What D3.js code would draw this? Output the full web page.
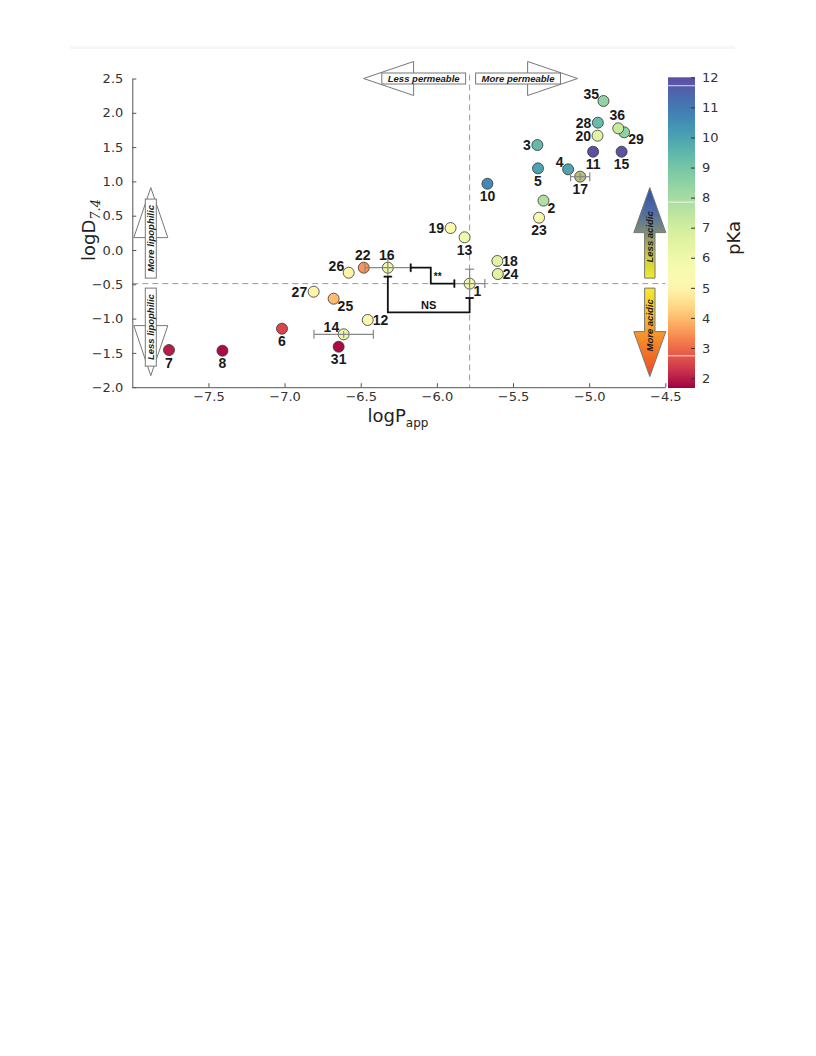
<!DOCTYPE html>
<html><head><meta charset="utf-8">
<script src="https://cdn.jsdelivr.net/npm/d3@7"></script>
<style>body{margin:0;background:#fff} svg{display:block}</style>
</head><body><svg id="c" width="816" height="1056"></svg>
<script>
// ---------- data ----------
const ids = ["1","2","3","4","5","6","7","8","10","11","12","13","14","15","16","17","18","19","20","22","23","24","25","26","27","28","29","31","35","36"];
const logPapp = [-5.785,-5.30,-5.34,-5.138,-5.336,-7.017,-7.759,-7.408,-5.668,-4.974,-6.454,-5.818,-6.612,-4.787,-6.322,-5.059,-5.603,-5.91,-4.945,-6.48,-5.329,-5.60,-6.678,-6.579,-6.809,-4.943,-4.77,-6.645,-4.906,-4.809];
const logD = [-0.49,0.72,1.53,1.176,1.19,-1.147,-1.458,-1.468,0.966,1.433,-1.02,0.185,-1.229,1.433,-0.258,1.069,-0.16,0.32,1.666,-0.258,0.471,-0.35,-0.71,-0.331,-0.608,1.856,1.716,-1.41,2.172,1.774];
const pKa = [6.0,7.8,9.4,10.0,10.0,2.5,2.0,1.8,10.6,12.0,5.2,5.8,6.0,11.9,6.0,6.3,6.5,5.3,6.5,3.5,5.4,6.5,4.0,5.0,5.0,9.3,8.5,1.8,8.4,7.2];
const labelPos = ["br","br","l","tl","b","b","b","b","b","b","r","b","tl","b","t","b","r","l","l","t","b","r","br","tl","l","l","br","b","tl","t"];

const errIds = ["16","14","1","17"];
const errX = [0.15,0.195,0.10,0.063];
const errY = [0.13,0.05,0.21,0.05];

const xTicks = [-7.5,-7.0,-6.5,-6.0,-5.5,-5.0,-4.5];
const yTicks = [-2.0,-1.5,-1.0,-0.5,0.0,0.5,1.0,1.5,2.0,2.5];
const cbTicks = [2,3,4,5,6,7,8,9,10,11,12];
const cbDomain = [1.67, 12];
const cbMid = 5.2;

// ---------- setup ----------
const svg = d3.select("#c");
const x = d3.scaleLinear().domain([-8.0,-4.5]).range([132.3,665.3]);
const y = d3.scaleLinear().domain([-2.0,2.5]).range([387.2,78.5]);
const tScale = d3.scaleLinear().domain([cbDomain[0], cbMid, cbDomain[1]]).range([0,0.5,1]).clamp(true);
const color = v => d3.interpolateSpectral(tScale(v));
const cbY = d3.scaleLinear().domain(cbDomain).range([388,77.3]);
const cbX0 = 668, cbX1 = 695;

const pts = ids.map((id,i)=>({id, px:logPapp[i], d:logD[i], k:pKa[i], pos:labelPos[i]}));
const byId = Object.fromEntries(pts.map(p=>[p.id,p]));
const errs = errIds.map((id,i)=>({p:byId[id], ex:errX[i], ey:errY[i]}));
const ref = byId["1"];

// faint top band
svg.append("rect").attr("x",70).attr("y",46).attr("width",665).attr("height",3).attr("fill","#f2f8f8");

const defs = svg.append("defs");

// ---------- reference dashed lines ----------
svg.append("line").attr("x1",x(ref.px)).attr("x2",x(ref.px)).attr("y1",y(2.5)-4).attr("y2",y(-2.0))
  .attr("stroke","#999").attr("stroke-width",1).attr("stroke-dasharray","6,4");
svg.append("line").attr("x1",x(-8)).attr("x2",x(-4.5)).attr("y1",y(ref.d)).attr("y2",y(ref.d))
  .attr("stroke","#999").attr("stroke-width",1).attr("stroke-dasharray","6,4");

// ---------- axes ----------
const fmt = d3.format(".1f");
const gx = svg.append("g").attr("transform",`translate(0,${y(-2.0)})`)
  .call(d3.axisBottom(x).tickValues(xTicks).tickFormat(fmt).tickSizeInner(-4).tickSizeOuter(0).tickPadding(4.5));
const gy = svg.append("g").attr("transform",`translate(${x(-8)},0)`)
  .call(d3.axisLeft(y).tickValues(yTicks).tickFormat(fmt).tickSizeInner(-4).tickSizeOuter(0).tickPadding(9));
[gx,gy].forEach(g=>{
  g.select(".domain").attr("stroke","#555");
  g.selectAll(".tick line").attr("stroke","#555");
  g.selectAll(".tick text").attr("fill","#333").style("font-family","DejaVu Sans").style("font-size","13px");
});

// axis labels
const xl = svg.append("text").attr("x",398).attr("y",422).attr("text-anchor","middle")
  .style("font-family","DejaVu Sans").style("font-size","18px").attr("fill","#222");
xl.append("tspan").text("logP");
xl.append("tspan").attr("dy",5).style("font-size","12px").text("app");

const yl = svg.append("text").attr("transform","translate(95,230) rotate(-90)").attr("text-anchor","middle")
  .style("font-family","DejaVu Sans").style("font-size","18px").attr("fill","#222");
yl.append("tspan").text("logD");
yl.append("tspan").attr("dy",5).style("font-family","DejaVu Serif").style("font-style","italic").style("font-size","13px").text("7.4");

// ---------- block arrows ----------
function arrowPts(x0,y0,x1,y1,sw,hw,hl){
  const dx=x1-x0, dy=y1-y0, L=Math.hypot(dx,dy), ux=dx/L, uy=dy/L, px=-uy, py=ux;
  const bx=x1-ux*hl, by=y1-uy*hl;
  return [[x0+px*sw,y0+py*sw],[bx+px*sw,by+py*sw],[bx+px*hw,by+py*hw],[x1,y1],[bx-px*hw,by-py*hw],[bx-px*sw,by-py*sw],[x0-px*sw,y0-py*sw]];
}
function headPts(x0,y0,x1,y1,hw,hl){
  const dx=x1-x0, dy=y1-y0, L=Math.hypot(dx,dy), ux=dx/L, uy=dy/L, px=-uy, py=ux;
  const bx=x1-ux*hl, by=y1-uy*hl;
  return [[bx+px*hw,by+py*hw],[x1,y1],[bx-px*hw,by-py*hw]];
}
const arrowFont = g => g.style("font-family","Liberation Sans").style("font-weight","bold").style("font-style","italic").style("font-size","9.5px").attr("fill","#1a1a1a");

// white boxed arrows
function boxArrow(x0,y0,x1,y1,label,vertical){
  const g = svg.append("g");
  g.append("polygon").attr("points",headPts(x0,y0,x1,y1,17,50).join(" "))
    .attr("fill","#fff").attr("stroke","#777").attr("stroke-width",1);
  const t = g.append("text").attr("text-anchor","middle").call(arrowFont).text(label);
  const tl = t.node().getComputedTextLength();
  const box = tl + 12;
  const L = Math.hypot(x1-x0,y1-y0), ux=(x1-x0)/L, uy=(y1-y0)/L;
  const cx = x0+ux*box/2, cy = y0+uy*box/2;
  if(vertical){
    g.insert("rect","text").attr("x",cx-5.5).attr("y",Math.min(y0,y0+uy*box)).attr("width",11).attr("height",box)
      .attr("fill","#fff").attr("stroke","#777").attr("stroke-width",1);
    t.attr("transform",`translate(${cx+3.3},${cy}) rotate(-90)`);
  } else {
    g.insert("rect","text").attr("x",Math.min(x0,x0+ux*box)).attr("y",cy-5.5).attr("width",box).attr("height",11)
      .attr("fill","#fff").attr("stroke","#777").attr("stroke-width",1);
    t.attr("x",cx).attr("y",cy+3.3);
  }
}
const rx = x(ref.px), ry = y(ref.d), topY = y(2.5), leftX = x(-8)+18.5;
boxArrow(rx-4, topY, rx-106, topY, "Less permeable", false);
boxArrow(rx+6, topY, rx+108, topY, "More permeable", false);
boxArrow(leftX, ry-5.5, leftX, ry-96, "More lipophilic", true);
boxArrow(leftX, ry+4.5, leftX, ry+92, "Less lipophilic", true);

// gradient arrows (acidity)
function gradArrow(idn,x0,y0,x1,y1,stops,label,textShift){
  const gr = defs.append("linearGradient").attr("id",idn).attr("gradientUnits","userSpaceOnUse")
    .attr("x1",x0).attr("y1",y0).attr("x2",x1).attr("y2",y1);
  stops.forEach(s=>gr.append("stop").attr("offset",s[0]).attr("stop-color",s[1]));
  svg.append("polygon").attr("points",arrowPts(x0,y0,x1,y1,5.2,16,45).join(" "))
    .attr("fill",`url(#${idn})`).attr("stroke","#777").attr("stroke-width",1);
  const cy = (y0+y1)/2 + textShift;
  svg.append("text").attr("text-anchor","middle").call(arrowFont)
    .attr("transform",`translate(${x0+3.3},${cy}) rotate(-90)`).text(label);
}
const ax = x(-4.5)-15.5;
gradArrow("gLess", ax, ry-5.5, ax, ry-96,
  [[0,"#f0ec2c"],[0.25,"#c9c840"],[0.5,"#7d8f76"],[0.75,"#4d6aa6"],[1,"#2f4f9e"]], "Less acidic", 4);
gradArrow("gMore", ax, ry+4.5, ax, ry+93,
  [[0,"#f6ea2c"],[0.3,"#f7c02a"],[0.55,"#f6902a"],[1,"#ee4624"]], "More acidic", -7);

// ---------- colorbar ----------
const cg = defs.append("linearGradient").attr("id","cbar").attr("x1",0).attr("y1",1).attr("x2",0).attr("y2",0);
d3.range(0,1.0001,0.02).forEach(f=>{
  const v = cbDomain[0] + f*(cbDomain[1]-cbDomain[0]);
  cg.append("stop").attr("offset",f).attr("stop-color",color(v));
});
svg.append("rect").attr("x",cbX0).attr("y",cbY(cbDomain[1])).attr("width",cbX1-cbX0)
  .attr("height",cbY(cbDomain[0])-cbY(cbDomain[1])).attr("fill","url(#cbar)");
[11.72,7.85,2.74].forEach(v=>svg.append("line").attr("x1",cbX0).attr("x2",cbX1).attr("y1",cbY(v)).attr("y2",cbY(v))
  .attr("stroke","#fff").attr("stroke-width",1).attr("opacity",0.8));
const gc = svg.append("g").attr("transform",`translate(${cbX1},0)`)
  .call(d3.axisRight(cbY).tickValues(cbTicks).tickFormat(d3.format("d")).tickSizeInner(-4).tickSizeOuter(0).tickPadding(7));
gc.select(".domain").remove();
gc.selectAll(".tick line").attr("stroke","#333");
gc.selectAll(".tick text").attr("fill","#333").style("font-family","DejaVu Sans").style("font-size","13px");
svg.append("text").attr("transform","translate(740,238) rotate(-90)").attr("text-anchor","middle")
  .style("font-family","DejaVu Sans").style("font-size","18px").attr("fill","#222").text("pKa");

// ---------- points ----------
svg.append("g").selectAll("circle").data(pts).join("circle")
  .attr("cx",p=>x(p.px)).attr("cy",p=>y(p.d)).attr("r",5.5)
  .attr("fill",p=>color(p.k)).attr("stroke","#333").attr("stroke-width",0.8);
// darker shading on 17
svg.append("circle").attr("cx",x(byId["17"].px)).attr("cy",y(byId["17"].d)).attr("r",5.5)
  .attr("fill","#5a5a30").attr("opacity",0.35);

// ---------- error bars ----------
const eg = svg.append("g").attr("stroke","#888").attr("stroke-width",1.2);
errs.forEach(e=>{
  const cx=x(e.p.px), cy=y(e.p.d);
  const xa=x(e.p.px-e.ex), xb=x(e.p.px+e.ex), ya=y(e.p.d+e.ey), yb=y(e.p.d-e.ey);
  eg.append("line").attr("x1",xa).attr("x2",xb).attr("y1",cy).attr("y2",cy);
  eg.append("line").attr("x1",xa).attr("x2",xa).attr("y1",cy-4.5).attr("y2",cy+4.5);
  eg.append("line").attr("x1",xb).attr("x2",xb).attr("y1",cy-4.5).attr("y2",cy+4.5);
  eg.append("line").attr("x1",cx).attr("x2",cx).attr("y1",ya).attr("y2",yb);
  if (yb-ya > 12){
    eg.append("line").attr("x1",cx-4.5).attr("x2",cx+4.5).attr("y1",ya).attr("y2",ya);
    eg.append("line").attr("x1",cx-4.5).attr("x2",cx+4.5).attr("y1",yb).attr("y2",yb);
  }
});

// ---------- significance brackets ----------
const e16 = errs[0], e1 = errs[2];
const p16 = e16.p, p1 = e1.p;
const elbowX = -6.04, nsY = -0.91;
const line = d3.line().x(d=>x(d[0])).y(d=>y(d[1]));
const bg = svg.append("g").attr("fill","none").attr("stroke","#111").attr("stroke-width",1.8);
const s1 = [[p16.px+e16.ex,p16.d],[elbowX,p16.d],[elbowX,p1.d],[p1.px-e1.ex,p1.d]];
bg.append("path").attr("d",line(s1));
const s2 = [[p16.px,p16.d-e16.ey],[p16.px,nsY],[p1.px,nsY],[p1.px,p1.d-e1.ey]];
bg.append("path").attr("d",line(s2));
// caps
[[s1[0],"v"],[s1[3],"v"],[s2[0],"h"],[s2[3],"h"]].forEach(([pt,o])=>{
  const X=x(pt[0]), Y=y(pt[1]);
  if(o==="v") bg.append("line").attr("x1",X).attr("x2",X).attr("y1",Y-4).attr("y2",Y+4);
  else bg.append("line").attr("x1",X-4).attr("x2",X+4).attr("y1",Y).attr("y2",Y);
});
svg.append("text").attr("x",x(elbowX)+3).attr("y",(y(p16.d)+y(p1.d))/2+4).text("**")
  .style("font-family","Liberation Sans").style("font-weight","bold").style("font-size","10px").attr("fill","#111");
svg.append("text").attr("x",(x(p16.px)+x(p1.px))/2).attr("y",y(nsY)-3).attr("text-anchor","middle").text("NS")
  .style("font-family","Liberation Sans").style("font-weight","bold").style("font-size","11px").attr("fill","#111");

// ---------- point labels ----------
const off = {
  b:{a:"middle",dx:0,dy:12.5},
  t:{a:"middle",dx:-1,dy:-13},
  l:{a:"end",dx:-6.5,dy:0},
  r:{a:"start",dx:5,dy:0},
  tl:{a:"end",dx:-4.5,dy:-7},
  br:{a:"start",dx:4,dy:7}
};
svg.append("g").selectAll("text").data(pts).join("text")
  .attr("x",p=>x(p.px)+off[p.pos].dx).attr("y",p=>y(p.d)+off[p.pos].dy+5)
  .attr("text-anchor",p=>off[p.pos].a)
  .style("font-family","Liberation Sans").style("font-weight","bold").style("font-size","14px")
  .attr("fill","#1a1a1a").text(p=>p.id);
</script></body></html>
